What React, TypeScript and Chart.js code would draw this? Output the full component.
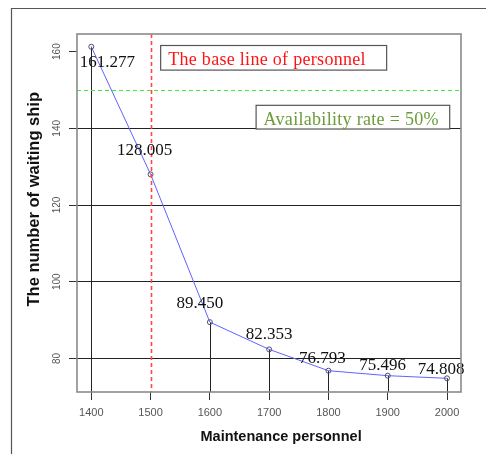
import { useEffect, useRef } from "react";
import { Chart, registerables } from "chart.js";

Chart.register(...registerables);

// ---- data ----
const personnel = [1400, 1500, 1600, 1700, 1800, 1900, 2000];
const waitingShips = [161.277, 128.005, 89.45, 82.353, 76.793, 75.496, 74.808];
const valueLabels = ["161.277", "128.005", "89.450", "82.353", "76.793", "75.496", "74.808"];
const xTickValues = [1400, 1500, 1600, 1700, 1800, 1900, 2000];
const yTickValues = [80, 100, 120, 140, 160];
const baselinePersonnel = 1500;
const availabilityLevel = 150;
const baselineLegend = "The base line of personnel";
const availabilityLegend = "Availability rate = 50%";
const xTitle = "Maintenance personnel";
const yTitle = "The number of waiting ship";

// ---- layout / style (not data) ----
const labelOffsets: [number, number][] = [
  [16, 15], [-6, -25], [-10, -20], [0, -16], [-6, -13.5], [-5, -11], [-6, -10],
];
const legendBoxes = [
  { text: baselineLegend, x: 1517, y: 161.6, w: 226, h: 24.6, color: "#ff1414" },
  { text: availabilityLegend, x: 1678, y: 146, w: 193.6, h: 23.7, color: "#6b9b3a" },
];

const decorations = {
  id: "decorations",
  beforeDraw(chart: any) {
    const ctx = chart.ctx;
    ctx.save();
    ctx.fillStyle = "#ffffff";
    ctx.fillRect(0, 0, chart.width, chart.height);
    ctx.strokeStyle = "#555555";
    ctx.lineWidth = 1.2;
    ctx.beginPath();
    ctx.moveTo(11.5, chart.height);
    ctx.lineTo(11.5, 8.5);
    ctx.lineTo(chart.width, 8.5);
    ctx.stroke();
    ctx.restore();
  },
  beforeDatasetsDraw(chart: any) {
    // drop lines from each point (except the baseline one) to the x axis
    const ctx = chart.ctx;
    const area = chart.chartArea;
    const meta = chart.getDatasetMeta(0);
    ctx.save();
    ctx.strokeStyle = "#222222";
    ctx.lineWidth = 1;
    meta.data.forEach((pt: any, i: number) => {
      if (personnel[i] === baselinePersonnel) return;
      const x = Math.round(pt.x) + 0.5;
      ctx.beginPath();
      ctx.moveTo(x, pt.y);
      ctx.lineTo(x, area.bottom);
      ctx.stroke();
    });
    ctx.restore();
  },
  afterDatasetsDraw(chart: any) {
    const ctx = chart.ctx;
    const xs = chart.scales.x;
    const ys = chart.scales.y;
    const area = chart.chartArea;
    ctx.save();
    // reference lines
    ctx.setLineDash([4, 3]);
    ctx.lineWidth = 1.6;
    ctx.strokeStyle = "rgb(255, 70, 70)";
    const bx = Math.round(xs.getPixelForValue(baselinePersonnel)) + 0.5;
    ctx.beginPath();
    ctx.moveTo(bx, area.top);
    ctx.lineTo(bx, area.bottom);
    ctx.stroke();
    ctx.lineWidth = 1.2;
    ctx.strokeStyle = "rgb(60, 235, 60)";
    const gy = Math.round(ys.getPixelForValue(availabilityLevel)) + 0.5;
    ctx.beginPath();
    ctx.moveTo(area.left, gy);
    ctx.lineTo(area.right, gy);
    ctx.stroke();
    ctx.setLineDash([]);

    // value labels
    const meta = chart.getDatasetMeta(0);
    ctx.font = "17px 'Liberation Serif', serif";
    ctx.fillStyle = "#111111";
    ctx.textAlign = "center";
    ctx.textBaseline = "alphabetic";
    meta.data.forEach((pt: any, i: number) => {
      const [dx, dy] = labelOffsets[i];
      ctx.fillText(valueLabels[i], pt.x + dx, pt.y + dy + 5.6);
    });

    // legend boxes
    legendBoxes.forEach((b) => {
      const left = xs.getPixelForValue(b.x);
      const top = ys.getPixelForValue(b.y);
      ctx.fillStyle = "#ffffff";
      ctx.fillRect(left, top, b.w, b.h);
      ctx.strokeStyle = "#555555";
      ctx.lineWidth = 1.2;
      ctx.strokeRect(left, top, b.w, b.h);
      ctx.font = "18px 'Liberation Serif', serif";
      ctx.fillStyle = b.color;
      ctx.textAlign = "left";
      (ctx as any).letterSpacing = "0.3px";
      ctx.fillText(b.text, left + 7.5, top + 19.2);
      (ctx as any).letterSpacing = "0px";
    });

    // plot box
    ctx.strokeStyle = "#8a8a8a";
    ctx.lineWidth = 1.6;
    ctx.strokeRect(area.left, area.top, area.right - area.left, area.bottom - area.top);
    ctx.restore();
  },
};

export default function App() {
  const ref = useRef<HTMLCanvasElement>(null);

  useEffect(() => {
    if (!ref.current) return;
    const chart = new Chart(ref.current, {
      type: "line",
      data: {
        datasets: [
          {
            data: personnel.map((p, i) => ({ x: p, y: waitingShips[i] })),
            borderColor: "#6262ff",
            borderWidth: 1,
            pointRadius: 2.5,
            pointBorderColor: "#505070",
            pointBackgroundColor: "rgba(0,0,0,0)",
            pointBorderWidth: 1,
            tension: 0,
          },
        ],
      },
      options: {
        responsive: false,
        animation: false,
        devicePixelRatio: 1,
        layout: { padding: { left: 0, top: 34, right: 25, bottom: 0 } },
        plugins: {
          legend: { display: false },
          tooltip: { enabled: false },
          title: { display: false },
        },
        scales: {
          x: {
            type: "linear",
            min: 1375.9,
            max: 2023.6,
            offset: false,
            afterBuildTicks: (s: any) => {
              s.ticks = xTickValues.map((v) => ({ value: v }));
            },
            afterFit: (s: any) => {
              s.height = 62;
            },
            border: { display: false },
            grid: {
              drawOnChartArea: false,
              drawTicks: true,
              tickLength: 8,
              tickColor: "#333333",
              offset: false,
            },
            ticks: {
              font: { family: "'Liberation Sans', Arial, sans-serif", size: 11 },
              color: "#555555",
              padding: 6,
              maxRotation: 0,
              minRotation: 0,
              callback: (v: any) => String(v),
            },
            title: {
              display: true,
              text: "      " + xTitle,
              font: { family: "'Liberation Sans', Arial, sans-serif", size: 14.5, weight: "bold" },
              color: "#111111",
              padding: { top: 0, bottom: 8 },
            },
          },
          y: {
            type: "linear",
            min: 71.24,
            max: 164.6,
            afterBuildTicks: (s: any) => {
              s.ticks = yTickValues.map((v) => ({ value: v }));
            },
            afterFit: (s: any) => {
              s.width = 77;
            },
            border: { display: false },
            grid: {
              color: (c: any) => (c.tick && c.tick.value === 160 ? "rgba(0,0,0,0)" : "#222222"),
              lineWidth: 1,
              tickLength: 8,
              tickColor: "#333333",
            },
            ticks: {
              font: { family: "'Liberation Sans', Arial, sans-serif", size: 10 },
              color: "#555555",
              padding: 3,
              minRotation: 90,
              maxRotation: 90,
              crossAlign: "center",
              callback: (v: any) => String(v),
            },
            title: {
              display: true,
              text: "      " + yTitle,
              font: { family: "'Liberation Sans', Arial, sans-serif", size: 16.5, weight: "bold" },
              color: "#111111",
              padding: { top: 25, bottom: 0 },
            },
          },
        },
      },
      plugins: [decorations],
    });
    return () => chart.destroy();
  }, []);

  return (
    <div style={{ position: "absolute", left: 0, top: 0, width: 486, height: 454, background: "#fff" }}>
      <canvas ref={ref} width={486} height={454} style={{ display: "block" }} />
    </div>
  );
}
